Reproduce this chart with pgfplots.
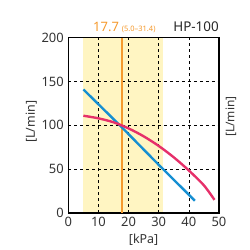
\documentclass[border=0pt]{standalone}
\usepackage{pgfplots}
\pgfplotsset{compat=1.18}
\usepackage{fontspec}
\setmainfont{Noto Sans}

\definecolor{bandyellow}{HTML}{FFF5C2}
\definecolor{ticktext}{HTML}{333333}
\definecolor{optorange}{HTML}{F59A2E}
\definecolor{curveblue}{HTML}{168FD2}
\definecolor{curvered}{HTML}{E6306A}

\begin{document}
\begin{tikzpicture}
\begin{axis}[
  set layers,
  scale only axis,
  width=150.7bp, height=175.3bp,
  xmin=0, xmax=50, ymin=0, ymax=200,
  xtick={0,10,...,50}, ytick={0,50,...,200},
  grid=major,
  grid style={dashed, black, line width=0.5pt},
  axis line style={line width=1.6pt},
  tick style={draw=none},
  ticklabel style={font=\fontsize{13}{15}\selectfont, text=ticktext},
  /pgf/number format/assume math mode=true,
  xticklabel style={yshift=-1bp},
  yticklabel style={xshift=-1bp},
  clip=false,
]
% recommended operating range
\addplot[on layer=axis background, fill=bandyellow, draw=none]
  coordinates {(5,0) (31.4,0) (31.4,200) (5,200)} -- cycle;
% rated point
\addplot[optorange, line width=2pt] coordinates {(17.7,0) (17.7,200)};
% flow curves
\addplot[curveblue, line width=2.4pt] coordinates {(5,141) (17.7,98) (30,55) (42,14)};
\addplot[curvered, line width=2.4pt, smooth] coordinates {
  (5,111) (10,108) (15,103.5) (20,96.5) (25,87.5) (30,76.5)
  (35,63.5) (40,48.5) (45,31.5) (48.5,15)};

\node[anchor=base east, inner sep=0pt, text=black!85, font=\fontsize{13.5}{15}\selectfont]
  at (rel axis cs:1,1) [yshift=6bp] {HP-100};
\node[anchor=base west, text=optorange, inner sep=0pt]
  at (axis cs:8.2,200) [yshift=6bp]
  {{\fontsize{13}{15}\selectfont 17.7}\hspace{3bp}{\fontsize{7.5}{9}\selectfont (5.0–31.4)}};
% axis titles
\node[xshift=12bp, rotate=90, text=ticktext, font=\fontsize{12}{14}\selectfont]
  at (rel axis cs:1,0.55) {[L/min]};
\node[xshift=-37bp, rotate=90, text=ticktext, font=\fontsize{12.5}{14}\selectfont]
  at (rel axis cs:0,0.52) {[L/min]};
\node[text=ticktext, font=\fontsize{12.5}{14}\selectfont]
  at (rel axis cs:0.5,0) [yshift=-27bp] {[kPa]};
\end{axis}
\pgfresetboundingbox
\path[use as bounding box] (-68.3bp,-37bp) rectangle (181.7bp,213bp);
\end{tikzpicture}
\end{document}
